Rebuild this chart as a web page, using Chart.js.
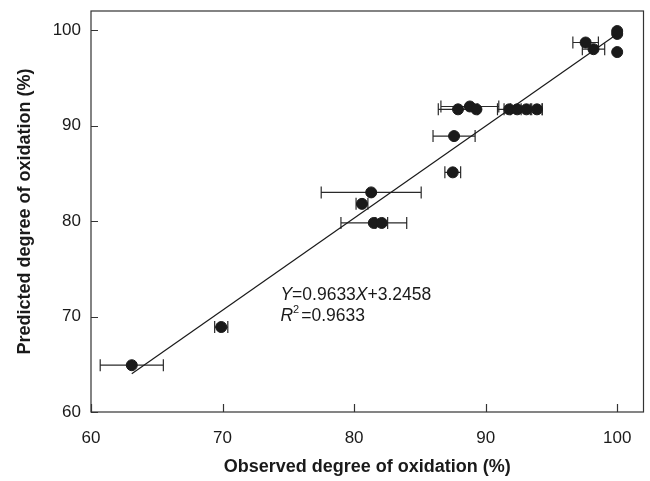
<!DOCTYPE html>
<html>
<head>
<meta charset="utf-8">
<script src="https://cdn.jsdelivr.net/npm/chart.js@4"></script>
<style>
html,body{margin:0;padding:0;background:#fff;}
#wrap{width:650px;height:481px;}
</style>
</head>
<body>
<div id="wrap"><canvas id="c" width="650" height="481"></canvas></div>
<script>
// Observed (x) vs predicted (y) degree of oxidation, %
const observed  = [63.1, 69.9, 81.3, 80.6, 81.5, 82.1, 87.5, 87.6, 87.9, 88.8, 89.3, 91.8, 92.4, 93.1, 93.9, 97.6, 98.2, 100.0, 100.0, 100.0];
const predicted = [64.9, 68.9, 83.0, 81.8, 79.8, 79.8, 85.1, 88.9, 91.7, 92.0, 91.7, 91.7, 91.7, 91.7, 91.7, 98.7, 98.0, 99.6, 99.9, 97.7];
const errorX    = [2.4, 0.5, 3.8, 0.45, 2.5, 0.45, 0.6, 1.6, 1.5, 2.2, 0.0, 0.9, 1.0, 1.2, 0.4, 0.97, 0.85, 0.0, 0.0, 0.0];
// Regression line endpoints
const fitX = [63.1, 100.0];
const fitY = [64.0, 99.6];
const tickValues = [60, 70, 80, 90, 100];
const equationText = ['Y', '=0.9633', 'X', '+3.2458'];
const r2Text = '=0.9633';
const labelPos = {x: 74.4, y1: 71.75, y2: 69.55};

const FONT = "'Liberation Sans', Arial, Helvetica, sans-serif";

const pts = observed.map((v, i) => ({x: v, y: predicted[i]}));
const fit = fitX.map((v, i) => ({x: v, y: fitY[i]}));

const framePlugin = {
  id: 'frame',
  beforeDatasetsDraw(chart) {
    const {ctx, scales: {x, y}} = chart;
    ctx.save();
    ctx.strokeStyle = '#2a2a2a';
    ctx.lineWidth = 1.2;
    observed.forEach((v, i) => {
      const e = errorX[i];
      if (!e) return;
      const py = y.getPixelForValue(predicted[i]);
      const x1 = x.getPixelForValue(v - e), x2 = x.getPixelForValue(v + e);
      ctx.beginPath();
      ctx.moveTo(x1, py); ctx.lineTo(x2, py);
      ctx.moveTo(x1, py - 6); ctx.lineTo(x1, py + 6);
      ctx.moveTo(x2, py - 6); ctx.lineTo(x2, py + 6);
      ctx.stroke();
    });
    ctx.restore();
  },
  afterDraw(chart) {
    const {ctx, chartArea: a, scales: {x, y}} = chart;
    ctx.save();
    ctx.strokeStyle = '#333';
    ctx.lineWidth = 1.2;
    ctx.strokeRect(a.left, a.top, a.right - a.left, a.bottom - a.top);
    ctx.beginPath();
    tickValues.forEach(t => {
      const px = Math.round(x.getPixelForValue(t)) + 0.5;
      ctx.moveTo(px, a.bottom); ctx.lineTo(px, a.bottom - 8);
      const py = Math.round(y.getPixelForValue(t)) + 0.5;
      ctx.moveTo(a.left, py); ctx.lineTo(a.left + 7, py);
    });
    ctx.stroke();
    // equation text
    ctx.fillStyle = '#1a1a1a';
    ctx.textBaseline = 'alphabetic';
    ctx.textAlign = 'left';
    let tx = x.getPixelForValue(labelPos.x);
    const ty1 = y.getPixelForValue(labelPos.y1);
    const ty2 = y.getPixelForValue(labelPos.y2);
    equationText.forEach((s, i) => {
      ctx.font = (i % 2 === 0 ? 'italic ' : '') + '17.5px ' + FONT;
      ctx.fillText(s, tx, ty1);
      tx += ctx.measureText(s).width;
    });
    tx = x.getPixelForValue(labelPos.x);
    ctx.font = 'italic 17.5px ' + FONT;
    ctx.fillText('R', tx, ty2);
    tx += ctx.measureText('R').width;
    ctx.font = '11px ' + FONT;
    ctx.fillText('2', tx, ty2 - 8);
    tx += ctx.measureText('2').width + 2;
    ctx.font = '17.5px ' + FONT;
    ctx.fillText(r2Text, tx, ty2);
    ctx.restore();
  }
};

const setTicks = axis => { axis.ticks = tickValues.map(v => ({value: v})); };

new Chart(document.getElementById('c'), {
  type: 'scatter',
  data: {
    datasets: [
      {
        type: 'line', data: fit, borderColor: '#1a1a1a', borderWidth: 1.2,
        pointRadius: 0, fill: false, tension: 0
      },
      {
        data: pts, backgroundColor: '#1a1a1a', borderColor: '#1a1a1a',
        pointRadius: 5.5, pointHoverRadius: 5.5
      }
    ]
  },
  options: {
    responsive: false,
    animation: false,
    layout: {padding: {top: 11, right: 3, left: 0, bottom: 0}},
    plugins: {legend: {display: false}, tooltip: {enabled: false}},
    scales: {
      x: {
        type: 'linear', min: 60, max: 102,
        afterBuildTicks: setTicks,
        afterFit: s => { s.height = 69; s.paddingLeft = 0; s.paddingRight = 0; },
        grid: {display: false, drawTicks: false},
        border: {display: false},
        ticks: {stepSize: 10, padding: 16, color: '#1a1a1a', font: {family: FONT, size: 17}, maxRotation: 0, autoSkip: false},
        title: {display: true, text: 'Observed degree of oxidation (%)', color: '#1a1a1a',
                font: {family: FONT, size: 18, weight: 'bold'}, padding: {top: 0, bottom: 3}}
      },
      y: {
        type: 'linear', min: 60, max: 102,
        afterBuildTicks: setTicks,
        afterFit: s => { s.width = 91; s.paddingTop = 0; s.paddingBottom = 0; },
        grid: {display: false, drawTicks: false},
        border: {display: false},
        ticks: {stepSize: 10, padding: 10, color: '#1a1a1a', font: {family: FONT, size: 17}, autoSkip: false},
        title: {display: true, text: 'Predicted degree of oxidation (%)', color: '#1a1a1a',
                font: {family: FONT, size: 18, weight: 'bold'}, padding: {top: 14, bottom: 0}}
      }
    }
  },
  plugins: [framePlugin]
});
</script>
</body>
</html>
